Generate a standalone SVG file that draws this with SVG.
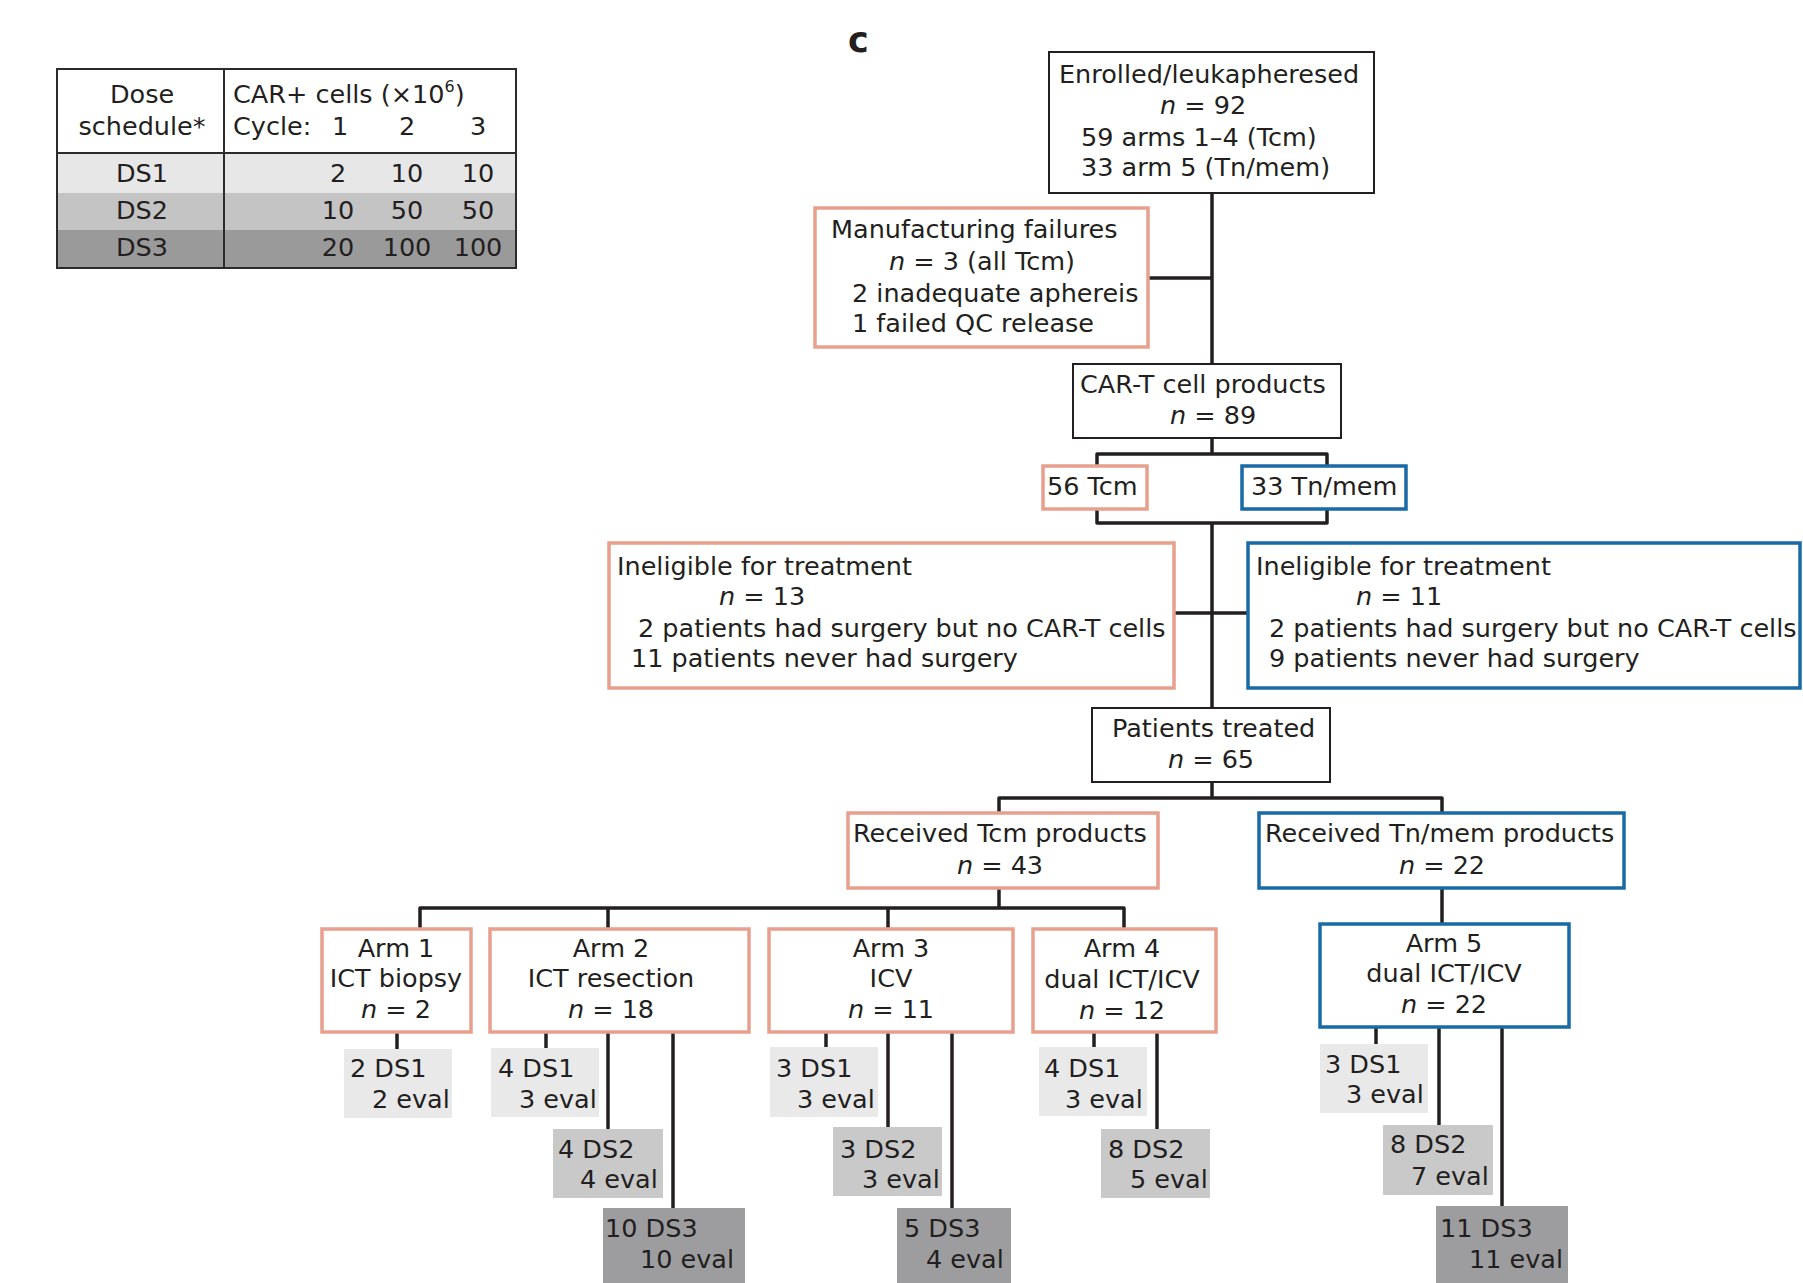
<svg xmlns="http://www.w3.org/2000/svg" width="1803" height="1283" viewBox="0 0 1803 1283">
<style>
.t{font-family:"DejaVu Sans","Liberation Sans",sans-serif;font-size:25.5px;fill:#231f20}
.m{text-anchor:middle}
.i{font-style:italic}
.bk{fill:#fff;stroke:#231f20;stroke-width:2}
.sa{fill:#fff;stroke:#e6a08d;stroke-width:3.5}
.bl{fill:#fff;stroke:#1a6aa6;stroke-width:3.5}
.c{fill:none;stroke:#231f20;stroke-width:3.5;stroke-linejoin:round}
.d1{fill:#e9e9ea}
.d2{fill:#c9c9ca}
.d3{fill:#9d9d9f}
</style>
<rect width="1803" height="1283" fill="#fff"/>

<g id="table">
<rect x="57" y="69" width="459" height="84" fill="#fff"/>
<rect x="57" y="153" width="459" height="40" fill="#e7e7e8"/>
<rect x="57" y="193" width="459" height="37" fill="#c4c4c5"/>
<rect x="57" y="230" width="459" height="38" fill="#9a9a9b"/>
<rect x="57" y="69" width="459" height="199" fill="none" stroke="#2b2b2b" stroke-width="2"/>
<line x1="57" y1="153" x2="516" y2="153" stroke="#2b2b2b" stroke-width="2"/>
<line x1="224" y1="69" x2="224" y2="268" stroke="#2b2b2b" stroke-width="2"/>
<text class="t m" x="142" y="103">Dose</text>
<text class="t m" x="142" y="135">schedule*</text>
<text class="t" x="233" y="103">CAR+ cells (×10<tspan font-size="16" dy="-11">6</tspan><tspan dy="11">)</tspan></text>
<text class="t" x="233" y="135">Cycle:</text>
<text class="t m" x="340" y="135">1</text>
<text class="t m" x="407" y="135">2</text>
<text class="t m" x="478" y="135">3</text>
<text class="t m" x="142" y="182">DS1</text>
<text class="t m" x="338" y="182">2</text>
<text class="t m" x="407" y="182">10</text>
<text class="t m" x="478" y="182">10</text>
<text class="t m" x="142" y="219">DS2</text>
<text class="t m" x="338" y="219">10</text>
<text class="t m" x="407" y="219">50</text>
<text class="t m" x="478" y="219">50</text>
<text class="t m" x="142" y="256">DS3</text>
<text class="t m" x="338" y="256">20</text>
<text class="t m" x="407" y="256">100</text>
<text class="t m" x="478" y="256">100</text>
</g>

<text x="848" y="52" font-family="DejaVu Sans, sans-serif" font-weight="bold" font-size="35" fill="#231f20">c</text>

<g id="connectors">
<path class="c" d="M1212,193 V364"/>
<path class="c" d="M1148,278 H1212"/>
<path class="c" d="M1212,438 V454"/>
<path class="c" d="M1097,466 V454 H1327 V466"/>
<path class="c" d="M1097,509 V523 H1327 V509"/>
<path class="c" d="M1212,523 V708"/>
<path class="c" d="M1174,613 H1248"/>
<path class="c" d="M1212,782 V798"/>
<path class="c" d="M999,813 V798 H1442 V813"/>
<path class="c" d="M999,888 V908"/>
<path class="c" d="M420,929 V908 H1124 V929"/>
<path class="c" d="M608,908 V929"/>
<path class="c" d="M888,908 V929"/>
<path class="c" d="M1442,888 V924"/>
<path class="c" d="M397,1032 V1049"/>
<path class="c" d="M546,1032 V1048"/>
<path class="c" d="M608,1032 V1129"/>
<path class="c" d="M673,1032 V1208"/>
<path class="c" d="M826,1032 V1047"/>
<path class="c" d="M888,1032 V1127"/>
<path class="c" d="M952,1032 V1208"/>
<path class="c" d="M1094,1032 V1047"/>
<path class="c" d="M1157,1032 V1129"/>
<path class="c" d="M1376,1027 V1044"/>
<path class="c" d="M1439,1027 V1125"/>
<path class="c" d="M1502,1027 V1206"/>
</g>

<g id="enrolled">
<rect class="bk" x="1049" y="52" width="325" height="141"/>
<text class="t" x="1059" y="83">Enrolled/leukapheresed</text>
<text class="t" x="1160" y="114"><tspan class="i">n</tspan> = 92</text>
<text class="t" x="1081" y="146">59 arms 1–4 (Tcm)</text>
<text class="t" x="1081" y="176">33 arm 5 (Tn/mem)</text>
</g>

<g id="manufacturing-failures">
<rect class="sa" x="815" y="208" width="333" height="139"/>
<text class="t" x="831" y="238">Manufacturing failures</text>
<text class="t" x="889" y="270"><tspan class="i">n</tspan> = 3 (all Tcm)</text>
<text class="t" x="852" y="302">2 inadequate aphereis</text>
<text class="t" x="852" y="332">1 failed QC release</text>
</g>

<g id="cart-products">
<rect class="bk" x="1073" y="364" width="268" height="74"/>
<text class="t" x="1080" y="393">CAR-T cell products</text>
<text class="t" x="1170" y="424"><tspan class="i">n</tspan> = 89</text>
</g>

<g id="tcm56">
<rect class="sa" x="1043" y="466" width="104" height="43"/>
<text class="t" x="1047" y="495">56 Tcm</text>
</g>

<g id="tnmem33">
<rect class="bl" x="1242" y="466" width="164" height="43"/>
<text class="t" x="1251" y="495">33 Tn/mem</text>
</g>

<g id="ineligible-tcm">
<rect class="sa" x="609" y="543" width="565" height="145"/>
<text class="t" x="617" y="575">Ineligible for treatment</text>
<text class="t" x="719" y="605"><tspan class="i">n</tspan> = 13</text>
<text class="t" x="638" y="637">2 patients had surgery but no CAR-T cells</text>
<text class="t" x="631" y="667">11 patients never had surgery</text>
</g>

<g id="ineligible-tnmem">
<rect class="bl" x="1248" y="543" width="552" height="145"/>
<text class="t" x="1256" y="575">Ineligible for treatment</text>
<text class="t" x="1356" y="605"><tspan class="i">n</tspan> = 11</text>
<text class="t" x="1269" y="637">2 patients had surgery but no CAR-T cells</text>
<text class="t" x="1269" y="667">9 patients never had surgery</text>
</g>

<g id="patients-treated">
<rect class="bk" x="1092" y="708" width="238" height="74"/>
<text class="t" x="1112" y="737">Patients treated</text>
<text class="t m" x="1211" y="768"><tspan class="i">n</tspan> = 65</text>
</g>

<g id="received-tcm">
<rect class="sa" x="848" y="813" width="310" height="75"/>
<text class="t" x="853" y="842">Received Tcm products</text>
<text class="t m" x="1000" y="874"><tspan class="i">n</tspan> = 43</text>
</g>

<g id="received-tnmem">
<rect class="bl" x="1259" y="813" width="365" height="75"/>
<text class="t" x="1265" y="842">Received Tn/mem products</text>
<text class="t m" x="1442" y="874"><tspan class="i">n</tspan> = 22</text>
</g>

<g id="arm1">
<rect class="sa" x="322" y="929" width="149" height="103"/>
<text class="t m" x="396" y="957">Arm 1</text>
<text class="t m" x="396" y="987">ICT biopsy</text>
<text class="t m" x="396" y="1018"><tspan class="i">n</tspan> = 2</text>
</g>
<g id="arm1-ds1">
<rect class="d1" x="344" y="1049" width="108" height="69"/>
<text class="t" x="350" y="1077">2 DS1</text>
<text class="t" x="372" y="1108">2 eval</text>
</g>

<g id="arm2">
<rect class="sa" x="490" y="929" width="259" height="103"/>
<text class="t m" x="611" y="957">Arm 2</text>
<text class="t m" x="611" y="987">ICT resection</text>
<text class="t m" x="611" y="1018"><tspan class="i">n</tspan> = 18</text>
</g>
<g id="arm2-ds1">
<rect class="d1" x="491" y="1048" width="108" height="69"/>
<text class="t" x="498" y="1077">4 DS1</text>
<text class="t" x="519" y="1108">3 eval</text>
</g>
<g id="arm2-ds2">
<rect class="d2" x="553" y="1129" width="110" height="69"/>
<text class="t" x="558" y="1158">4 DS2</text>
<text class="t" x="580" y="1188">4 eval</text>
</g>
<g id="arm2-ds3">
<rect class="d3" x="603" y="1208" width="142" height="75"/>
<text class="t" x="605" y="1237">10 DS3</text>
<text class="t" x="640" y="1268">10 eval</text>
</g>

<g id="arm3">
<rect class="sa" x="769" y="929" width="244" height="103"/>
<text class="t m" x="891" y="957">Arm 3</text>
<text class="t m" x="891" y="987">ICV</text>
<text class="t m" x="891" y="1018"><tspan class="i">n</tspan> = 11</text>
</g>
<g id="arm3-ds1">
<rect class="d1" x="770" y="1047" width="108" height="70"/>
<text class="t" x="776" y="1077">3 DS1</text>
<text class="t" x="797" y="1108">3 eval</text>
</g>
<g id="arm3-ds2">
<rect class="d2" x="833" y="1127" width="109" height="69"/>
<text class="t" x="840" y="1158">3 DS2</text>
<text class="t" x="862" y="1188">3 eval</text>
</g>
<g id="arm3-ds3">
<rect class="d3" x="897" y="1208" width="114" height="75"/>
<text class="t" x="904" y="1237">5 DS3</text>
<text class="t" x="926" y="1268">4 eval</text>
</g>

<g id="arm4">
<rect class="sa" x="1033" y="929" width="183" height="103"/>
<text class="t m" x="1122" y="957">Arm 4</text>
<text class="t m" x="1122" y="988">dual ICT/ICV</text>
<text class="t m" x="1122" y="1019"><tspan class="i">n</tspan> = 12</text>
</g>
<g id="arm4-ds1">
<rect class="d1" x="1039" y="1047" width="108" height="69"/>
<text class="t" x="1044" y="1077">4 DS1</text>
<text class="t" x="1065" y="1108">3 eval</text>
</g>
<g id="arm4-ds2">
<rect class="d2" x="1101" y="1129" width="109" height="69"/>
<text class="t" x="1108" y="1158">8 DS2</text>
<text class="t" x="1130" y="1188">5 eval</text>
</g>

<g id="arm5">
<rect class="bl" x="1320" y="924" width="249" height="103"/>
<text class="t m" x="1444" y="952">Arm 5</text>
<text class="t m" x="1444" y="982">dual ICT/ICV</text>
<text class="t m" x="1444" y="1013"><tspan class="i">n</tspan> = 22</text>
</g>
<g id="arm5-ds1">
<rect class="d1" x="1320" y="1044" width="108" height="69"/>
<text class="t" x="1325" y="1073">3 DS1</text>
<text class="t" x="1346" y="1103">3 eval</text>
</g>
<g id="arm5-ds2">
<rect class="d2" x="1383" y="1125" width="110" height="70"/>
<text class="t" x="1390" y="1153">8 DS2</text>
<text class="t" x="1411" y="1185">7 eval</text>
</g>
<g id="arm5-ds3">
<rect class="d3" x="1436" y="1206" width="132" height="77"/>
<text class="t" x="1440" y="1237">11 DS3</text>
<text class="t" x="1469" y="1268">11 eval</text>
</g>
</svg>
